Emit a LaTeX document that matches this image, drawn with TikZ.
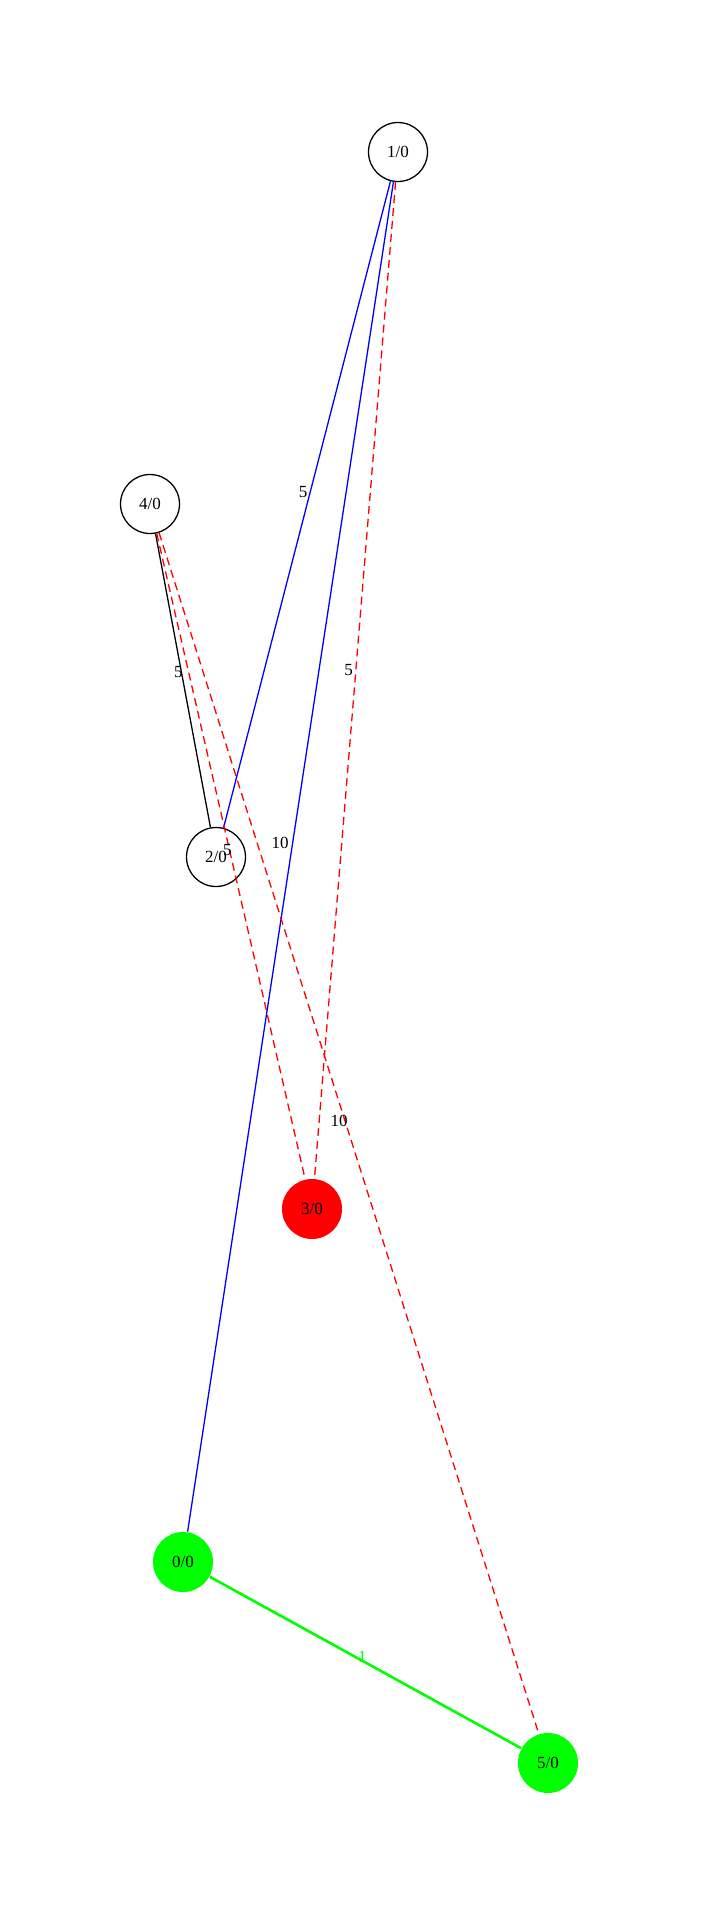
\documentclass[tikz,border=0pt]{standalone}
\usepackage{fontspec}
\setmainfont{Liberation Serif}
\usepackage{xcolor}
\usetikzlibrary{positioning}

\begin{document}
\begin{tikzpicture}[x=1pt, y=-1pt, font=\fontsize{17}{20}\selectfont,
        vertex/.style={circle, draw, line width=1.3pt, minimum size=59pt, inner sep=0pt},
        target/.style={vertex, draw=none, fill=red, minimum size=60pt},
        source/.style={vertex, draw=none, fill=green, minimum size=60pt},
        redpath/.style={draw=red, line width=1.3pt, dash pattern=on 8pt off 5pt},
        bluepath/.style={draw=blue, line width=1.3pt},
        greenpath/.style={draw=green, text=green, line width=2.6pt}]
        \useasboundingbox (0,0) rectangle (706,1920);

        \node[vertex]  (1) at (398,152)  {1/0};
        \node[vertex]  (4) at (150,504)  {4/0};
        \node[vertex]  (2) at (216,857)  {2/0};
        \node[target]  (3) at (312,1209) {3/0};
        \node[source]  (0) at (183,1562) {0/0};
        \node[source]  (5) at (548,1763) {5/0};

        \draw[line width=1.3pt]
            (4) edge node[pos=.47, xshift=-3pt] {5} (2)
            ;
        \draw[bluepath]
            (2) edge node[pos=.52, left=-1pt] {5} (1)
            (1) edge node[pos=.49, left=0pt] {10} (0)
            ;
        \draw[redpath]
            (1) edge node[pos=.49, left=-1pt] {5} (3)
            (4) edge node[pos=.49, xshift=-2pt] {5} (3)
            (4) edge node[pos=.49, xshift=-6pt] {10} (5)
            ;
        \draw[greenpath]
            (0) edge node[pos=.49, above=-6pt] {1} (5)
            ;
\end{tikzpicture}
\end{document}
